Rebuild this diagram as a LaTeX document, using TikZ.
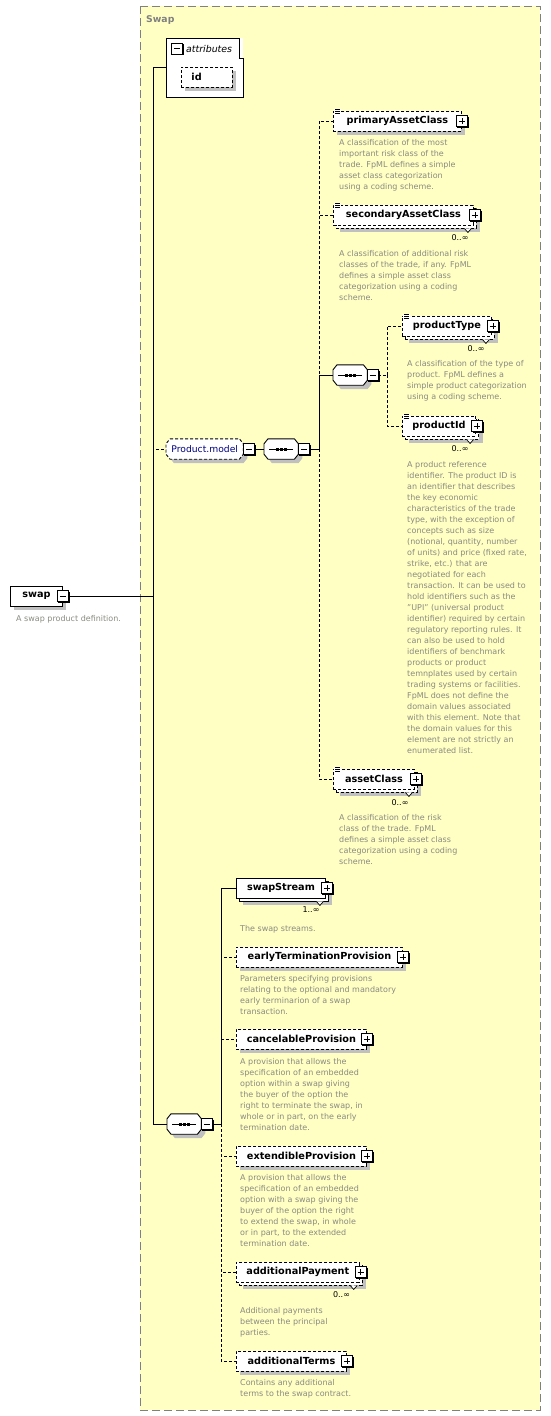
\documentclass[tikz,border=0pt]{standalone}
\usepackage{fontspec}
\setmainfont{DejaVu Sans}
\usetikzlibrary{shadows,calc}

\definecolor{typefill}{RGB}{255,255,196}
\definecolor{framegray}{RGB}{128,128,128}
\definecolor{shadowgray}{RGB}{192,192,192}
\definecolor{desctext}{RGB}{138,138,128}
\definecolor{groupblue}{RGB}{0,0,128}

\pgfdeclarelayer{frame}
\pgfdeclarelayer{background}
\pgfsetlayers{frame,background,main}

\tikzset{
  wire/.style={line width=0.9pt},
  optional/.style={dash pattern=on 3pt off 2pt},
  typeframe/.style={draw=framegray, fill=typefill, line width=1pt, dash pattern=on 8pt off 4pt},
  elem/.style={draw, fill=white, line width=0.9pt, minimum height=20pt, inner xsep=10pt, inner ysep=0pt, anchor=west, font=\bfseries\fontsize{9.7}{12}\selectfont},
  single/.style={elem, general shadow={fill=shadowgray, shadow xshift=4pt, shadow yshift=-4pt}},
  many/.style={elem, general shadow={fill=shadowgray, shadow xshift=7pt, shadow yshift=-7pt}, copy shadow={shadow xshift=3pt, shadow yshift=-3pt}},
  compositor/.style={rectangle, minimum width=34pt, minimum height=20pt, inner sep=0pt, anchor=west},
  group/.style={compositor, minimum width=77pt, text=groupblue, font=\fontsize{9.2}{11}\selectfont},
  desc/.style={anchor=north west, inner sep=0pt, align=left, text=desctext, font=\fontsize{8}{11}\selectfont},
  mult/.style={inner sep=0pt, font=\fontsize{8}{10}\selectfont},
  expand/.pic={
    \draw[fill=white, line width=0.8pt] (-5.5,-5.5) rectangle (5.5,5.5);
    \draw[line width=1.5pt] (6.2,-4.5) -- (6.2,6.2) -- (-4.5,6.2);
    \draw[line width=0.8pt] (-3,0) -- (3,0) (0,-3) -- (0,3);
  },
  collapse/.pic={
    \draw[fill=white, line width=0.8pt] (-5.5,-5.5) rectangle (5.5,5.5);
    \draw[line width=1.5pt] (6.2,-4.5) -- (6.2,6.2) -- (-4.5,6.2);
    \draw[line width=0.8pt] (-3,0) -- (3,0);
  },
  textmark/.pic={
    \fill[white] (1,-2) rectangle (8,4);
    \draw[line width=0.6pt] (2,-1) -- (7,-1) (2,1) -- (7,1) (2,3) -- (7,3);
  },
  manymark/.pic={
    \draw[fill=white, line width=0.7pt] (-3.5,0) -- (0,4) -- (3.5,0);
  }
}

% chamfered outline behind a compositor node
\newcommand{\compbox}[2][]{%
  \begin{pgfonlayer}{background}
    \fill[shadowgray] ($(#2.north west)+(8,4)$) -- ($(#2.north east)+(0,4)$) -- ($(#2.north east)+(4,9)$) -- ($(#2.south east)+(4,-1)$) -- ($(#2.south east)+(0,4)$) -- ($(#2.south west)+(8,4)$) -- ($(#2.south west)+(4,-1)$) -- ($(#2.north west)+(4,9)$) -- cycle;
    \draw[wire, fill=white, #1] ($(#2.north west)+(4,0)$) -- ($(#2.north east)+(-4,0)$) -- ($(#2.north east)+(0,5)$) -- ($(#2.south east)+(0,-5)$) -- ($(#2.south east)+(-4,0)$) -- ($(#2.south west)+(4,0)$) -- ($(#2.south west)+(0,-5)$) -- ($(#2.north west)+(0,5)$) -- cycle;
  \end{pgfonlayer}}
% sequence symbol
\newcommand{\seqmark}[1]{%
  \draw[line width=0.8pt] ([xshift=5pt]#1.west) -- ([xshift=-5pt]#1.east);
  \foreach \dx in {-4,0,4} \fill ($(#1.center)+(\dx,0)+(-1.5,-1.5)$) rectangle +(3,3);}

\begin{document}
\begin{tikzpicture}[x=1pt, y=-1pt]
  \useasboundingbox (0,0) rectangle (551,1416);

  % complex type frame
  \begin{pgfonlayer}{frame}
    \draw[typeframe] (140,6) rectangle (540,1410);
  \end{pgfonlayer}
  \node[anchor=west, inner sep=0pt, text=framegray, font=\bfseries\fontsize{9.3}{11}\selectfont] (typeName) at (146,20) {Swap};

  % root element
  \node[single, minimum width=52pt] (swap) at (10,596) {swap};
  \node[desc] (swapDoc) at (16,615) {A swap product definition.};

  % attributes
  \node[draw=none, fill=white, minimum width=77pt, minimum height=59pt, inner sep=0pt, anchor=north west] (attrs) at (166,38) {};
  \draw[line width=0.9pt] (attrs.south west) -- (attrs.north west) -- ($(attrs.north east)+(-4,0)$) -- ($(attrs.north east)+(-4,20)$) -- ($(attrs.north east)+(0,20)$) -- (attrs.south east) -- cycle;
  \node[anchor=west, inner sep=0pt, font=\itshape\fontsize{9.4}{11}\selectfont] (attrsTitle) at (186,48.5) {attributes};
  \node[single, optional, text width=31pt, align=left] (attrId) at (181,77) {id};

  % Product.model group
  \node[group] (pmodel) at (166,449) {Product.model};
  \node[compositor] (seqA) at (264,449) {};
  \node[single, optional, minimum width=128pt] (primaryAC) at (333,121) {primaryAssetClass};
  \node[many, optional, minimum width=140pt] (secondaryAC) at (333,215) {secondaryAssetClass};
  \node[compositor] (seqC) at (333,375) {};
  \node[many, optional, minimum width=89pt] (productType) at (402,326) {productType};
  \node[many, optional, minimum width=73pt] (productId) at (402,426) {productId};
  \node[many, optional, minimum width=81pt] (assetClass) at (333,779) {assetClass};

  % swap content
  \node[compositor] (seqB) at (167,1124) {};
  \node[many, minimum width=89pt] (swapStream) at (236,888) {swapStream};
  \node[single, optional, minimum width=166pt] (earlyTP) at (236,957) {earlyTerminationProvision};
  \node[single, optional, minimum width=130pt] (cancelP) at (236,1039) {cancelableProvision};
  \node[single, optional, minimum width=130pt] (extendP) at (236,1156) {extendibleProvision};
  \node[many, optional, minimum width=121pt] (addPay) at (236,1272) {additionalPayment};
  \node[single, optional, minimum width=110pt] (addTerms) at (236,1361) {additionalTerms};

  \compbox[optional]{pmodel}
  \foreach \n in {seqA,seqB,seqC} {\compbox{\n} \seqmark{\n}}

  % connectors
  \coordinate (jType) at (153,596);
  \coordinate (jModel) at (319,449);
  \coordinate (jSeqC) at (387,375);
  \coordinate (jSwap) at (221,1124);

  \draw[wire, optional] (jType) |- (pmodel.west);
  \draw[wire] ([xshift=6pt]swap.east) -- (jType);
  \draw[wire] (attrs.west) -| (jType);
  \draw[wire] (jType) |- (seqB.west);

  \draw[wire] ([xshift=11pt]pmodel.east) -- (seqA.west);
  \draw[wire] ([xshift=11pt]seqA.east) -- (jModel);
  \draw[wire, optional] (jModel) |- (primaryAC.west);
  \draw[wire, optional] (jModel) |- (secondaryAC.west);
  \draw[wire, optional] (jModel) |- (assetClass.west);
  \draw[wire] (jModel) |- (seqC.west);
  \draw[wire, optional] ([xshift=11pt]seqC.east) -- (jSeqC);
  \draw[wire, optional] (jSeqC) |- (productType.west);
  \draw[wire, optional] (jSeqC) |- (productId.west);

  \draw[wire, optional] (jSwap) |- (earlyTP.west);
  \draw[wire, optional] (jSwap) |- (cancelP.west);
  \draw[wire, optional] (jSwap) |- (extendP.west);
  \draw[wire, optional] (jSwap) |- (addPay.west);
  \draw[wire, optional] (jSwap) |- (addTerms.west);
  \draw[wire] ([xshift=11pt]seqB.east) -- (jSwap);
  \draw[wire] (jSwap) |- (swapStream.west);

  % expand / collapse boxes and marks
  \pic at (swap.east) {collapse};
  \pic at (177,48.5) {collapse};
  \pic at ([xshift=5.5pt]pmodel.east) {collapse};
  \pic at ([xshift=5.5pt]seqA.east) {collapse};
  \pic at ([xshift=5.5pt]seqC.east) {collapse};
  \pic at ([xshift=5.5pt]seqB.east) {collapse};
  \foreach \n in {primaryAC,earlyTP,cancelP,extendP,addTerms} \pic at (\n.east) {expand};
  \foreach \n in {secondaryAC,productType,productId,assetClass,swapStream,addPay} {
    \pic at ([xshift=1pt]\n.east) {expand};
    \pic at ([xshift=-6pt,yshift=-3pt]\n.south east) {manymark};
  }
  \foreach \n in {primaryAC,secondaryAC,productType,productId,assetClass} \pic at (\n.north west) {textmark};

  % occurrences
  \node[mult] (secondaryOcc) at (460,238) {0..∞};
  \node[mult] (productTypeOcc) at (476,349) {0..∞};
  \node[mult] (productIdOcc) at (460,449) {0..∞};
  \node[mult] (assetClassOcc) at (400,803) {0..∞};
  \node[mult] (swapStreamOcc) at (311,910) {1..∞};
  \node[mult] (addPayOcc) at (341.5,1295) {0..∞};

  % annotations
  \node[desc] (primaryDoc) at (339,139) {A classification of the most\\important risk class of the\\trade. FpML defines a simple\\asset class categorization\\using a coding scheme.};
  \node[desc] (secondaryDoc) at (339,250) {A classification of additional risk\\classes of the trade, if any. FpML\\defines a simple asset class\\categorization using a coding\\scheme.};
  \node[desc] (productTypeDoc) at (407,360) {A classification of the type of\\product. FpML defines a\\simple product categorization\\using a coding scheme.};
  \node[desc] (productIdDoc) at (407,461) {A product reference\\identifier. The product ID is\\an identifier that describes\\the key economic\\characteristics of the trade\\type, with the exception of\\concepts such as size\\(notional, quantity, number\\of units) and price (fixed rate,\\strike, etc.) that are\\negotiated for each\\transaction. It can be used to\\hold identifiers such as the\\"UPI" (universal product\\identifier) required by certain\\regulatory reporting rules. It\\can also be used to hold\\identifiers of benchmark\\products or product\\temnplates used by certain\\trading systems or facilities.\\FpML does not define the\\domain values associated\\with this element. Note that\\the domain values for this\\element are not strictly an\\enumerated list.};
  \node[desc] (assetClassDoc) at (339,814) {A classification of the risk\\class of the trade. FpML\\defines a simple asset class\\categorization using a coding\\scheme.};
  \node[desc] (swapStreamDoc) at (240,925) {The swap streams.};
  \node[desc] (earlyTPDoc) at (240,975) {Parameters specifying provisions\\relating to the optional and mandatory\\early terminarion of a swap\\transaction.};
  \node[desc] (cancelPDoc) at (240,1058) {A provision that allows the\\specification of an embedded\\option within a swap giving\\the buyer of the option the\\right to terminate the swap, in\\whole or in part, on the early\\termination date.};
  \node[desc] (extendPDoc) at (240,1174) {A provision that allows the\\specification of an embedded\\option with a swap giving the\\buyer of the option the right\\to extend the swap, in whole\\or in part, to the extended\\termination date.};
  \node[desc] (addPayDoc) at (240,1307) {Additional payments\\between the principal\\parties.};
  \node[desc] (addTermsDoc) at (240,1379) {Contains any additional\\terms to the swap contract.};
\end{tikzpicture}
\end{document}
